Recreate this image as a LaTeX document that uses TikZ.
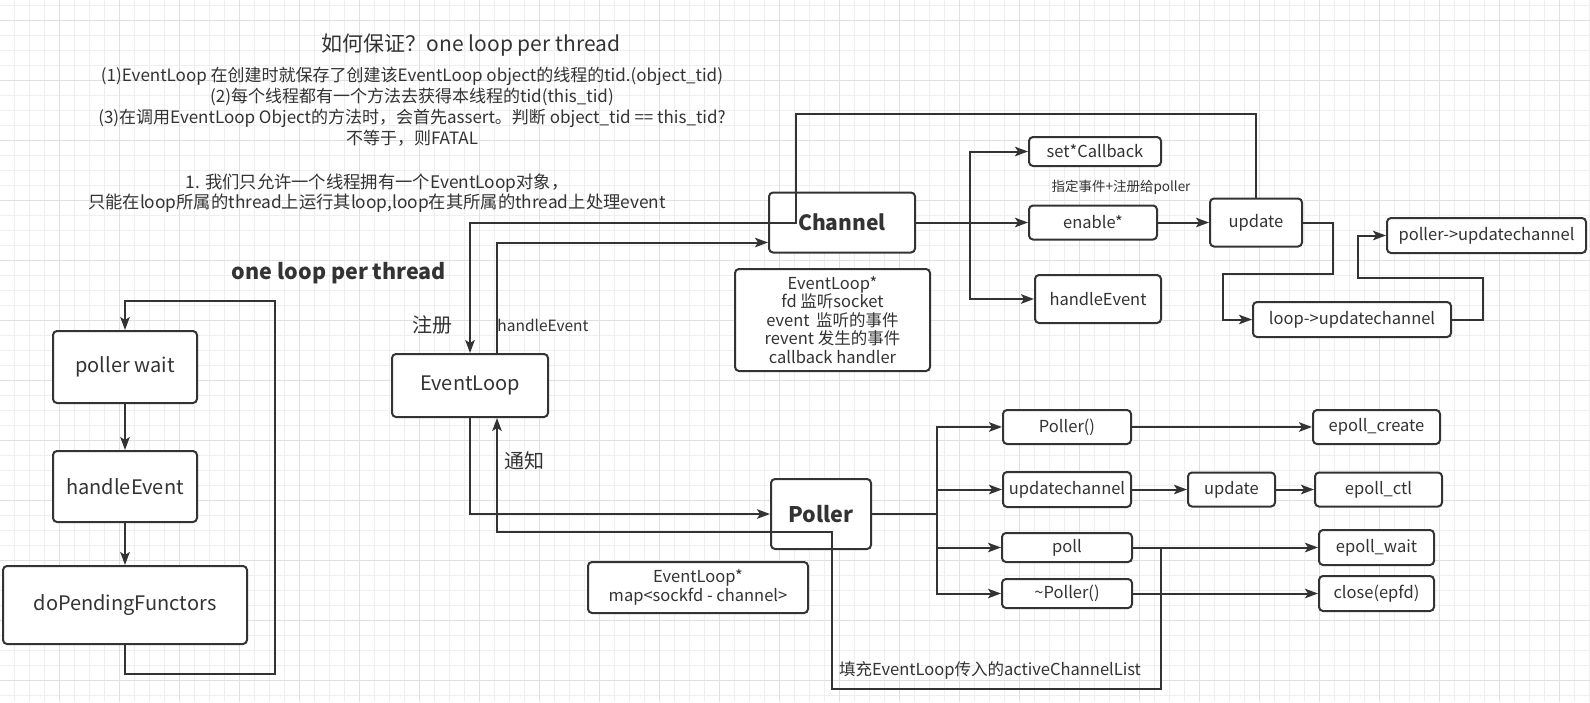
\documentclass[tikz,border=0pt]{standalone}
\usepackage{fontspec}
\setmainfont{Noto Sans CJK SC}
\usetikzlibrary{positioning, arrows.meta}
\definecolor{linec}{HTML}{333333}
\definecolor{gridminor}{HTML}{EFEFEF}
\definecolor{gridmajor}{HTML}{E0E0E0}
\newcommand{\fsz}[2]{\fontsize{#1}{#2}\selectfont}

\begin{document}
\begin{tikzpicture}[x=1pt, y=-1pt,
    box/.style={rectangle, draw=linec, line width=2pt, rounded corners=4pt, fill=white, text=linec, inner sep=0pt, align=center},
    arr/.style={-{Stealth[length=13pt,width=9.5pt,inset=3pt]}, draw=linec, line width=2pt},
    wire/.style={draw=linec, line width=2pt},
    note/.style={text=linec, inner sep=0pt, align=center},
    small/.style={font=\fsz{16.5}{18.5}},
    big/.style={font=\fsz{20}{24}}]
    \useasboundingbox (0,0) rectangle (1590,702);
    \fill[white] (0,0) rectangle (1590,702);
    % grid
    \foreach \gx in {14,29,...,1589} \draw[gridminor, line width=1pt] (\gx,0) -- (\gx,702);
    \foreach \gy in {5,20,...,701} \draw[gridminor, line width=1pt] (0,\gy) -- (1590,\gy);
    \foreach \gx in {59,119,...,1559} \draw[gridmajor, line width=1pt] (\gx,0) -- (\gx,702);
    \foreach \gy in {20,80,...,680} \draw[gridmajor, line width=1pt] (0,\gy) -- (1590,\gy);

    % header text
    \node[note, font=\fsz{21}{25}] (title) at (471,45) {如何保证？one loop per thread};
    \node[note, font=\fsz{17}{21}] (rules) at (412,107) {(1)EventLoop 在创建时就保存了创建该EventLoop object的线程的tid.(object\_tid)\\
        (2)每个线程都有一个方法去获得本线程的tid(this\_tid)\\
        (3)在调用EventLoop Object的方法时，会首先assert。判断 object\_tid == this\_tid?\\
        不等于，则FATAL};
    \node[note, font=\fsz{17.3}{20}] (onlyone) at (377,193) {1. 我们只允许一个线程拥有一个EventLoop对象，\\
        只能在loop所属的thread上运行其loop,loop在其所属的thread上处理event};

    % loop column
    \node[note, font=\bfseries\fsz{21.5}{26}] (looptitle) at (339,273) {one loop per thread};
    \node[box, big, minimum width=144pt, minimum height=72pt] (pwait) at (125,367) {poller wait};
    \node[box, big, minimum width=144pt, minimum height=71pt, below=46pt of pwait] (hevent) {handleEvent};
    \node[box, big, minimum width=244pt, minimum height=78pt, below=42pt of hevent] (pending) {doPendingFunctors};

    % core objects
    \node[box, big, minimum width=156pt, minimum height=63pt] (evloop) at (470,385.5) {EventLoop};
    \node[box, font=\bfseries\fsz{21}{26}, minimum width=146pt, minimum height=60pt] (channel) at (842,222.5) {Channel};
    \node[box, small, minimum width=195pt, minimum height=102pt] (chinfo) at (832.5,320) {EventLoop*\\fd 监听socket\\event\, 监听的事件\\revent 发生的事件\\callback handler};
    \node[box, font=\bfseries\fsz{21.5}{26}, minimum width=100pt, minimum height=70pt] (poller) at (821,514) {Poller};
    \node[box, small, minimum width=220pt, minimum height=51pt] (pinfo) at (698,587.5) {EventLoop*\\map<sockfd - channel>};

    % channel side
    \node[box, small, minimum width=132pt, minimum height=29pt] (setcb) at (1095,151.5) {set*Callback};
    \node[box, small, minimum width=128pt, minimum height=34pt] (enable) at (1093,222.5) {enable*};
    \node[box, small, minimum width=126pt, minimum height=48pt] (chevent) at (1098,299) {handleEvent};
    \node[box, small, minimum width=92pt, minimum height=48pt, right=51pt of enable] (chupdate) {update};
    \node[box, small, minimum width=198pt, minimum height=35pt] (loopupd) at (1352,319.5) {loop->updatechannel};
    \node[box, small, minimum width=199pt, minimum height=35pt] (pollerupd) at (1486.5,235.5) {poller->updatechannel};
    \node[note, font=\fsz{13.5}{16}] (regnote) at (1121,187) {指定事件+注册给poller};

    % poller side
    \node[box, small, minimum width=128pt, minimum height=34pt] (pctor) at (1067,427) {Poller()};
    \node[box, small, minimum width=128pt, minimum height=35pt] (pupdch) at (1067,489.5) {updatechannel};
    \node[box, small, minimum width=130pt, minimum height=29pt] (ppoll) at (1067,547.5) {poll};
    \node[box, small, minimum width=130pt, minimum height=29pt] (pdtor) at (1067,593.5) {\textasciitilde Poller()};
    \node[box, small, minimum width=87pt, minimum height=34pt, right=55pt of pupdch] (pupdate) {update};
    \node[box, small, minimum width=127pt, minimum height=34pt, right=180pt of pctor] (ecreate) {epoll\_create};
    \node[box, small, minimum width=127pt, minimum height=34pt, right=38pt of pupdate] (ectl) {epoll\_ctl};
    \node[box, small, minimum width=115pt, minimum height=35pt, right=185pt of ppoll] (ewait) {epoll\_wait};
    \node[box, small, minimum width=115pt, minimum height=35pt, right=185pt of pdtor] (eclose) {close(epfd)};

    % labels
    \node[note, big] (reglbl) at (432,325) {注册};
    \node[note, font=\fsz{15.5}{18}] (helbl) at (543,325) {handleEvent};
    \node[note, big] (notifylbl) at (524,461) {通知};
    \node[note, small] (filllbl) at (990,670) {填充EventLoop传入的activeChannelList};

    % loop arrows
    \draw[arr] (pwait) -- (hevent);
    \draw[arr] (hevent) -- (pending);
    \draw[arr] (pending.south) -- ++(0,29) -| (275,301) -| (pwait.north);

    % eventloop <-> channel
    \draw[arr] (chupdate.north) |- (796,114) |- (470,223) -- (evloop.north);
    \draw[arr] ([xshift=27pt]evloop.north) |- ([yshift=-20pt]channel.west);
    \coordinate (chbus) at (970,222.5);
    \draw[wire] (channel.east) -- (chbus);
    \draw[arr] (chbus) |- (setcb.west);
    \draw[arr] (chbus) -- (enable.west);
    \draw[arr] (chbus) |- (chevent.west);
    \draw[arr] (enable) -- (chupdate);
    \draw[arr] (chupdate.east) -- ++(30,0) |- (1223,274) |- (loopupd.west);
    \draw[arr] (loopupd.east) -- ++(31,0) |- (1358,278) |- (pollerupd.west);

    % eventloop <-> poller
    \draw[arr] (evloop.south) |- (poller.west);
    \draw[arr] (ppoll.east) -| (1161,689) -| (832,532) -| ([xshift=27pt]evloop.south);
    \coordinate (pbus) at (937,514);
    \draw[wire] (poller.east) -- (pbus);
    \draw[arr] (pbus) |- (pctor.west);
    \draw[arr] (pbus) |- (pupdch.west);
    \draw[arr] (pbus) |- (ppoll.west);
    \draw[arr] (pbus) |- (pdtor.west);
    \draw[arr] (pctor) -- (ecreate);
    \draw[arr] (pupdch) -- (pupdate);
    \draw[arr] (pupdate) -- (ectl);
    \draw[arr] (ppoll) -- (ewait);
    \draw[arr] (pdtor) -- (eclose);
\end{tikzpicture}
\end{document}
